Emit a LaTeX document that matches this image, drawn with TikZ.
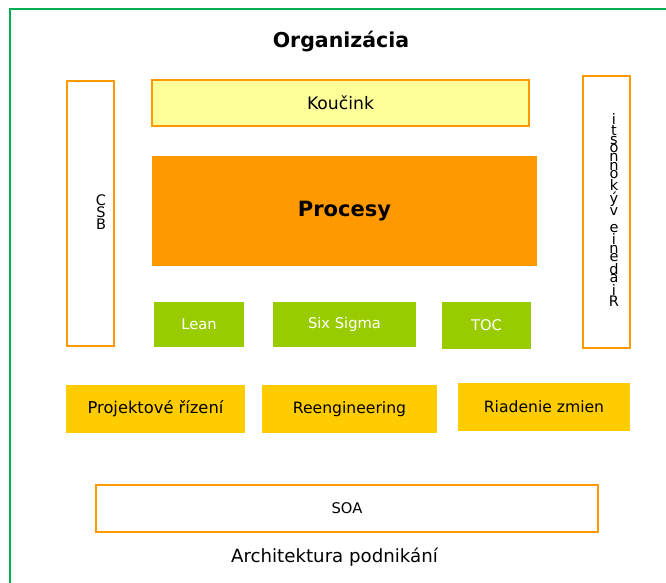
\documentclass[tikz,border=0pt]{standalone}
\usepackage{fontspec}
\setmainfont{DejaVu Sans}
\definecolor{orng}{HTML}{FF9900}
\definecolor{lyel}{HTML}{FFFF99}
\definecolor{lgrn}{HTML}{99CC00}
\definecolor{gold}{HTML}{FFCC00}
\definecolor{frame}{HTML}{00B050}
\begin{document}
\begin{tikzpicture}[x=1pt,y=-1pt,
  obox/.style={draw=orng, line width=1.6pt, fill=white, inner sep=0pt},
  ybox/.style={draw=orng, line width=1.6pt, fill=lyel, inner sep=0pt, font=\fontsize{17.2}{19}\selectfont},
  gbox/.style={fill=lgrn, inner sep=0pt, text=white, font=\fontsize{14.7}{16}\selectfont},
  dbox/.style={fill=gold, inner sep=0pt, font=\fontsize{15.6}{17}\selectfont},
  stack/.style={align=center, inner sep=0pt, font=\fontsize{14.5}{8.6}\selectfont},
]
\useasboundingbox (0,0) rectangle (666,583);
\fill[white] (0,0) rectangle (666,583);
\draw[frame, line width=1.8pt] (10,9) rectangle (700,620);
\node (title) at (341,42) {\fontsize{20.5}{24}\selectfont\bfseries Organizácia};
\node[obox, minimum width=47pt, minimum height=265pt] (bsc) at (90.5,213.5) {};
\node[stack] (bsct) at (101,212) {C\\S\\B};
\node[ybox, minimum width=377pt, minimum height=46pt] (kouc) at (340.5,103) {Koučink};
\node[fill=orng, inner sep=0pt, minimum width=385pt, minimum height=110pt, font=\fontsize{21}{26}\selectfont\bfseries] (proc) at (344.5,211) {Procesy};
\node[obox, minimum width=47pt, minimum height=272pt] (rv) at (606.5,212) {};
\node[stack] (rvt) at (614,210) {i\\t\\s\\o\\n\\n\\o\\k\\ý\\v\\~\\e\\i\\n\\e\\d\\a\\i\\R};
\node[gbox, minimum width=90pt, minimum height=45pt] (lean) at (199,324.5) {Lean};
\node[gbox, minimum width=143pt, minimum height=45pt] (six) at (344.5,324.5) {Six Sigma};
\node[gbox, minimum width=89pt, minimum height=47pt] (toc) at (486.5,325.5) {TOC};
\node[dbox, minimum width=179pt, minimum height=48pt, font=\fontsize{16.3}{17}\selectfont] (proj) at (155.5,409) {Projektové řízení};
\node[dbox, minimum width=175pt, minimum height=48pt] (reeng) at (349.5,409) {Reengineering};
\node[dbox, minimum width=172pt, minimum height=48pt] (zmien) at (544,407) {Riadenie zmien};
\node[obox, minimum width=502pt, minimum height=47pt, font=\fontsize{14.7}{16}\selectfont] (soa) at (347,508.5) {SOA};
\node (arch) at (334.5,557) {\fontsize{18.2}{20}\selectfont Architektura podnikání};
\end{tikzpicture}
\end{document}
